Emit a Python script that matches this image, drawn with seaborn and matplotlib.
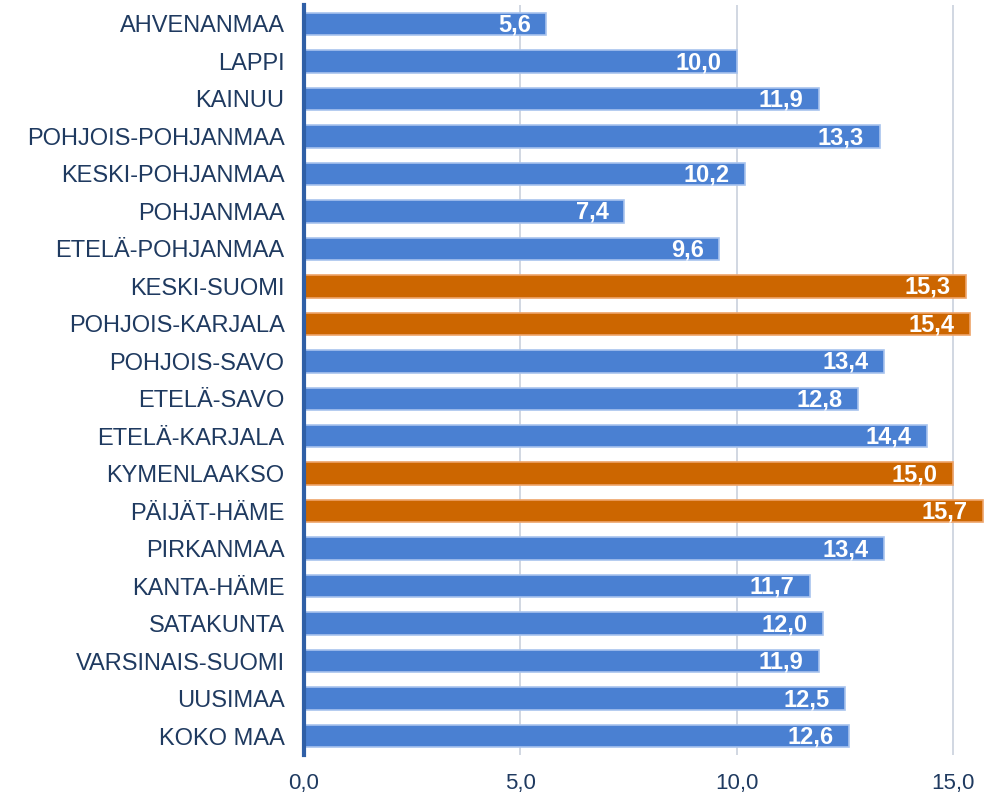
import matplotlib
matplotlib.use("Agg")
import matplotlib.pyplot as plt
import seaborn as sns
import pandas as pd

regions = ["AHVENANMAA", "LAPPI", "KAINUU", "POHJOIS-POHJANMAA", "KESKI-POHJANMAA",
           "POHJANMAA", "ETELÄ-POHJANMAA", "KESKI-SUOMI", "POHJOIS-KARJALA", "POHJOIS-SAVO",
           "ETELÄ-SAVO", "ETELÄ-KARJALA", "KYMENLAAKSO", "PÄIJÄT-HÄME", "PIRKANMAA",
           "KANTA-HÄME", "SATAKUNTA", "VARSINAIS-SUOMI", "UUSIMAA", "KOKO MAA"]
values = [5.6, 10.0, 11.9, 13.3, 10.2, 7.4, 9.6, 15.3, 15.4, 13.4,
          12.8, 14.4, 15.0, 15.7, 13.4, 11.7, 12.0, 11.9, 12.5, 12.6]
highlight = ["KESKI-SUOMI", "POHJOIS-KARJALA", "KYMENLAAKSO", "PÄIJÄT-HÄME"]
xticks = [0, 5, 10, 15]

sns.set_theme(style="white")
plt.rcParams["font.family"] = ["Liberation Sans", "DejaVu Sans"]

df = pd.DataFrame({"region": regions, "value": values})
df["group"] = ["hi" if r in highlight else "lo" for r in regions]

BLUE = "#4a80d2"
ORANGE = "#cc6600"
TEXT = "#1f3a60"

fig = plt.figure(figsize=(10.02, 7.94), dpi=100)
ax = fig.add_axes([0.3034, 0.0494, 0.6966, 0.944])

sns.barplot(data=df, y="region", x="value", hue="group", order=regions,
            palette={"lo": BLUE, "hi": ORANGE}, dodge=False, width=0.6,
            legend=False, ax=ax, saturation=1)

for patch in ax.patches:
    fc = patch.get_facecolor()
    if abs(fc[0] - 0.8) < 0.05:
        patch.set_edgecolor("#eea46a")
    else:
        patch.set_edgecolor("#a8c3ee")
    patch.set_linewidth(1.2)

for i, v in enumerate(values):
    ax.text(v - 0.36, i + 0.03, f"{v:.1f}".replace(".", ","), ha="right", va="center",
            color="white", fontsize=17, fontweight="bold")

ax.set_xlim(0, 16.13)
ax.set_ylim(19.5, -0.5)
ax.set_xticks(xticks)
ax.set_xticklabels([f"{t:.1f}".replace(".", ",") for t in xticks], fontsize=16, color=TEXT)
ax.tick_params(axis="x", length=0, pad=13)
ax.tick_params(axis="y", length=0, pad=14, labelsize=17, labelcolor=TEXT)
ax.set_xlabel("")
ax.set_ylabel("")
ax.grid(axis="x", color="#c9d1dd", linewidth=1.2)
ax.set_axisbelow(True)
for s in ["top", "right", "bottom"]:
    ax.spines[s].set_visible(False)
ax.spines["left"].set_color("#2f5fa6")
ax.spines["left"].set_linewidth(3)
ax.spines["left"].set_zorder(5)

fig.savefig("out.png", dpi=100)
